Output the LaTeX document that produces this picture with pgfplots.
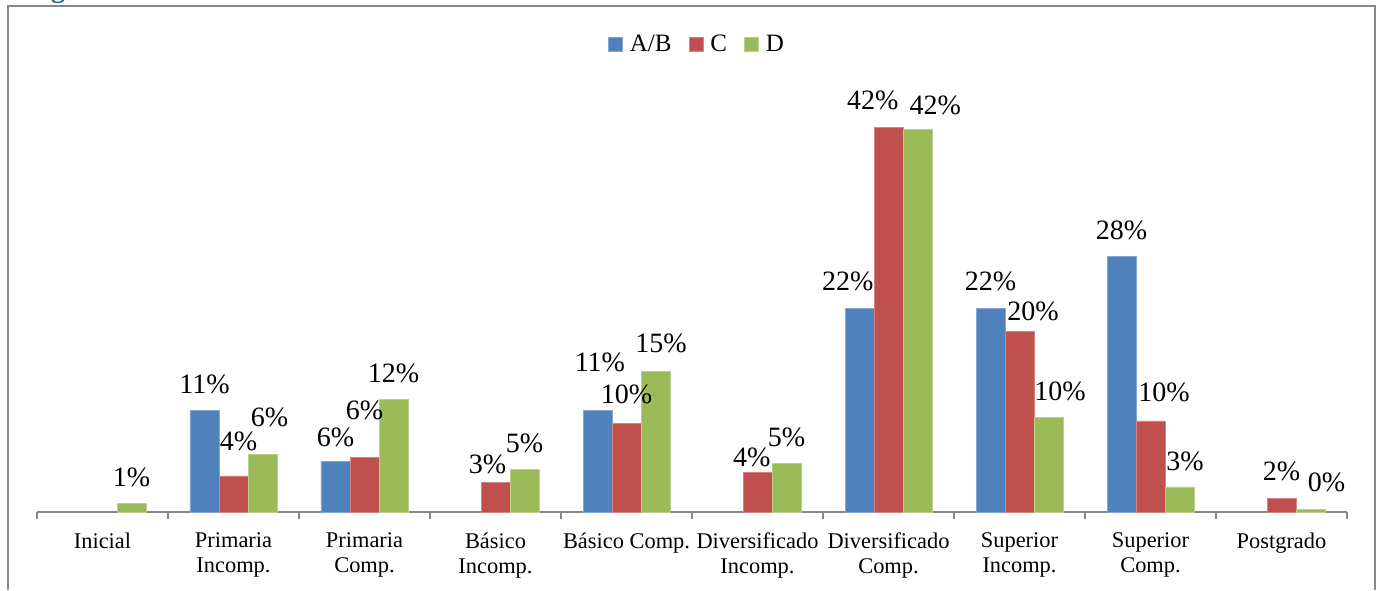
\documentclass[border=0pt]{standalone}
\usepackage{pgfplots}
\pgfplotsset{compat=1.18}
\usepackage{pgfplotstable}
\usepackage{fontspec}
\setmainfont{Liberation Serif}
\definecolor{cA}{HTML}{4F81BD}
\definecolor{cC}{HTML}{C0504D}
\definecolor{cD}{HTML}{9BBB59}
\definecolor{axgray}{HTML}{868686}
\definecolor{headblue}{HTML}{2F6A9E}

% x = category index, y = percent, lab = printed label, dx/dy = label offset (pt)
\pgfplotstableread{
x y lab dx dy
1 11.1 11 0 8.7
2 5.5 6 0 7.5
4 11.16 11 1.2 19.2
6 22.3 22 -5.8 9
7 22.3 22 0 9
8 27.93 28 0 8.4
}\tabA
\pgfplotstableread{
x y lab dx dy
1 3.94 4 2.5 12.5
2 5.94 6 0 18.9
3 3.2 3 -4 4.7
4 9.7 10 0 9.7
5 4.3 4 -2.8 3
6 42.05 42 -7.9 8.9
7 19.73 20 6.8 5.4
8 9.96 10 6.8 9.5
9 1.45 2 0 9
}\tabC
\pgfplotstableread{
x y lab dx dy
0 0.95 1 0 8.4
1 6.3 6 3.5 13.9
2 12.33 12 0 8.4
3 4.67 5 0 8.4
4 15.35 15 2.8 9.7
5 5.33 5 0 8.4
6 41.87 42 8.9 7.2
7 10.32 10 5.8 8.4
8 2.74 3 2.8 8
9 0.3 0 8 8.9
}\tabD

\begin{document}
\begin{tikzpicture}
\useasboundingbox (0,0) rectangle (690pt,295pt);
\draw[axgray, line width=1pt] (4pt,0pt) -- (4pt,292pt) -- (687.5pt,292pt) -- (687.5pt,0pt);
\node[anchor=base, font=\bfseries\fontsize{14}{16}\selectfont, text=headblue, inner sep=0pt] at (29pt,296pt) {g};
\begin{axis}[
  at={(18.5pt,39pt)}, anchor=south west,
  scale only axis, width=655pt, height=228.5pt,
  xmin=-0.5, xmax=9.5, ymin=0, ymax=50,
  axis y line=none, axis x line*=bottom,
  x axis line style={-, draw=axgray, line width=1pt},
  xtick={0,...,9},
  xticklabels={Inicial,{Primaria\\Incomp.},{Primaria\\Comp.},{Básico\\Incomp.},{Básico Comp.},{Diversificado\\Incomp.},{Diversificado\\Comp.},{Superior\\Incomp.},{Superior\\Comp.},Postgrado},
  minor xtick={-0.5,0.5,...,9.5},
  major tick length=0pt, minor tick length=3.5pt, tick align=outside,
  minor tick style={draw=axgray, line width=1pt},
  xticklabel style={align=center, font=\fontsize{11.2}{12.2}\selectfont, yshift=-7pt, text=black},
  ybar, bar width=0.2214,
  point meta=explicit symbolic,
  nodes near coords={\pgfplotspointmeta\%},
  visualization depends on={\thisrow{dx}\as\dx},
  visualization depends on={\thisrow{dy}\as\dy},
  every node near coord/.append style={anchor=base, xshift=\dx pt, yshift=\dy pt, font=\fontsize{14}{16}\selectfont, text=black, inner sep=0pt},
  legend style={at={(0.5042,1.0223)}, anchor=center, draw=none, fill=none, legend columns=-1, font=\fontsize{12.5}{14}\selectfont, nodes={inner sep=1.5pt}, /tikz/every odd column/.append style={column sep=2pt}, /tikz/every even column/.append style={column sep=7pt}},
  legend image code/.code={\fill[#1] (0pt,-3.5pt) rectangle (7pt,3.5pt);},
  clip=false,
]
\addplot[fill=cA, draw=cA!70!white, bar shift=-0.2214] table[x=x,y=y,meta=lab]{\tabA};
\addplot[fill=cC, draw=cC!70!white, bar shift=0] table[x=x,y=y,meta=lab]{\tabC};
\addplot[fill=cD, draw=cD!70!white, bar shift=0.2214] table[x=x,y=y,meta=lab]{\tabD};
\legend{A/B, C, D}
\end{axis}
\end{tikzpicture}
\end{document}
